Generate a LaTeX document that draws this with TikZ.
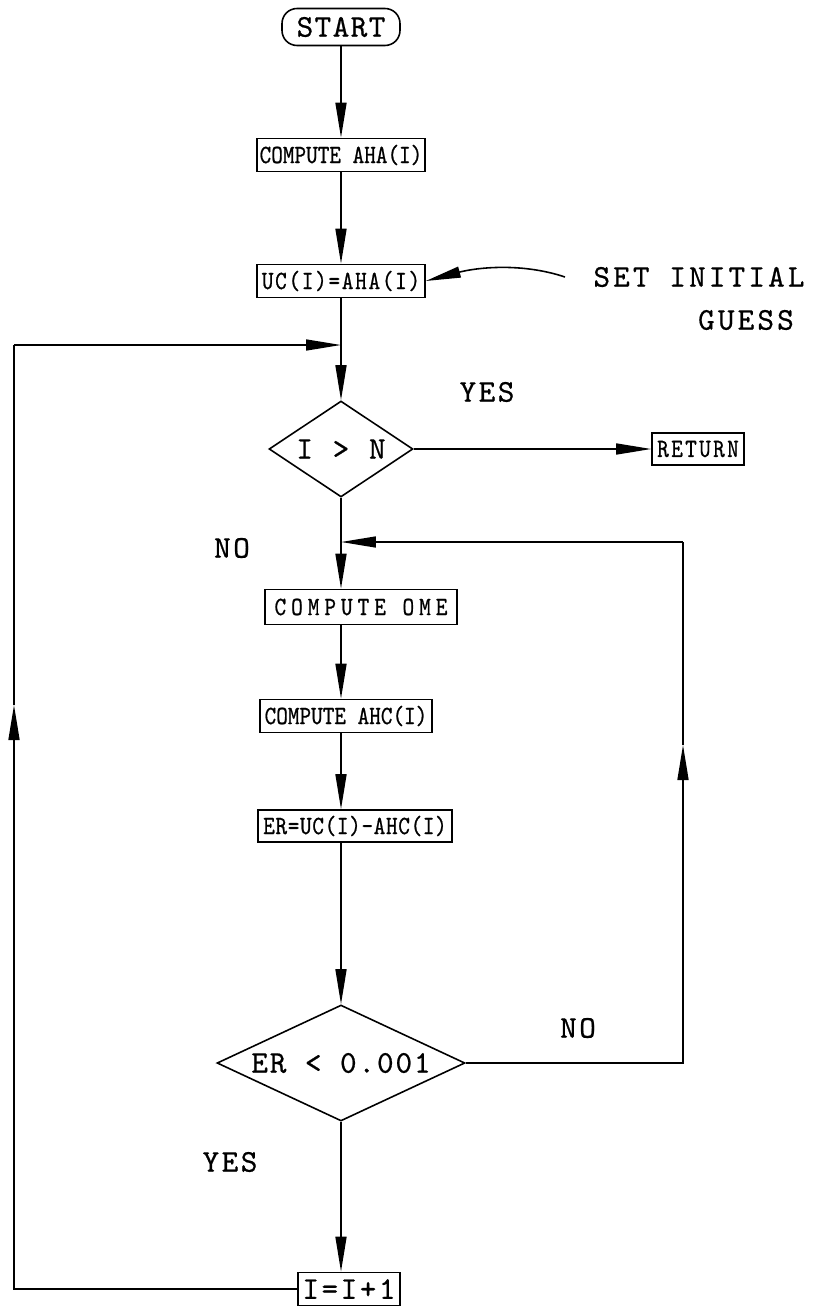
\documentclass[tikz,border=0pt]{standalone}
\usepackage{fontspec}
\newfontfamily\typewriter{lmmono10-regular.otf}[FakeBold=0.7, FakeStretch=0.84]
\newfontfamily\bigtypewriter{lmmono10-regular.otf}[FakeBold=0.6]
\usetikzlibrary{arrows.meta, shapes.geometric, calc}

\tikzset{
  typed/.style={font=\typewriter\fontsize{15}{17}\selectfont\addfontfeature{LetterSpace=#1}},
  typed/.default=0,
  bigtyped/.style={font=\bigtypewriter\fontsize{18}{20}\selectfont\addfontfeature{LetterSpace=#1}},
  bigtyped/.default=8,
  box/.style={draw, rectangle, inner sep=1pt, minimum height=0.66cm, line width=0.9pt},
  terminal/.style={draw, rectangle, rounded corners=0.3cm, inner sep=1pt, minimum height=0.74cm, line width=0.9pt},
  decision/.style={draw, diamond, inner sep=0pt, line width=0.9pt},
  flow/.style={line width=0.9pt},
  arr/.style={flow, -{Triangle[length=0.7cm,width=0.22cm]}},
}

\begin{document}
\begin{tikzpicture}[x=0.02cm, y=-0.02cm]
  \useasboundingbox (0,0) rectangle (815,1308);

  % main column
  \node[terminal, bigtyped=4.5, minimum width=2.36cm] (start) at (341,27) {START};
  \node[box, typed=0, minimum width=3.36cm] (aha) at (341,155) {COMPUTE AHA(I)};
  \node[box, typed=6.5, minimum width=3.36cm] (uc) at (341,281) {UC(I)=AHA(I)};
  \coordinate (merge) at (341,345);
  \node[decision, bigtyped=10, shape aspect=1.5, minimum width=2.88cm, minimum height=1.92cm] (gt) at (341,449) {I > N};
  \node[box, typed=9, minimum width=1.84cm, minimum height=0.64cm] (ret) at (698,449) {RETURN};
  \coordinate (join) at (341,542);
  \node[box, typed=19, minimum width=3.84cm, minimum height=0.7cm] (ome) at (361,607) {COMPUTE OME};
  \node[box, typed=0, minimum width=3.44cm] (ahc) at (346,716) {COMPUTE AHC(I)};
  \node[box, typed=2.5, minimum width=3.88cm, minimum height=0.64cm] (er) at (355,826) {ER=UC(I)-AHC(I)};
  \node[decision, bigtyped=6, shape aspect=2.14, minimum width=4.96cm, minimum height=2.32cm] (lt) at (341,1063) {ER < 0.001};
  \node[box, bigtyped=8, minimum width=2.04cm] (inc) at (349,1289) {I=I+1};

  % labels
  \node[bigtyped] (yes1) at (487,392) {YES};
  \node[bigtyped] (no1) at (232,548) {NO};
  \node[bigtyped] (no2) at (578,1028) {NO};
  \node[bigtyped] (yes2) at (230,1162) {YES};
  \node[bigtyped=10] (note1) at (699,277) {SET INITIAL};
  \node[bigtyped=10] (note2) at (746,320) {GUESS};

  % straight flow
  \draw[arr] (start) -- (aha);
  \draw[arr] (aha) -- (uc);
  \draw[flow] (uc) -- (merge);
  \draw[arr] (merge) -- (gt);
  \draw[arr] (gt) -- (ret);
  \draw[flow] (gt) -- (join);
  \draw[arr] (join) -- (join |- ome.north);
  \draw[arr] (join |- ome.south) -- (join |- ahc.north);
  \draw[arr] (join |- ahc.south) -- (join |- er.north);
  \draw[arr] (join |- er.south) -- (lt);
  \draw[arr] (lt) -- (lt |- inc.north);

  % outer loop
  \coordinate (lbot) at (14,1289);
  \coordinate (lmid) at (14,705);
  \coordinate (ltop) at (14,345);
  \draw[arr] (inc.west) -- (lbot) -- (lmid);
  \draw[flow] (lmid) -- (ltop);
  \draw[arr] (ltop) -- (merge);

  % inner loop
  \coordinate (rbot) at (683,1063);
  \coordinate (rmid) at (683,745);
  \coordinate (rtop) at (683,542);
  \draw[arr] (lt) -- (rbot) -- (rmid);
  \draw[flow] (rmid) -- (rtop);
  \draw[arr] (rtop) -- (join);

  % note pointer
  \coordinate (cs) at (565,277);
  \draw[arr] (cs) .. controls (520,262) and (475,268) .. (uc.east);
\end{tikzpicture}
\end{document}
